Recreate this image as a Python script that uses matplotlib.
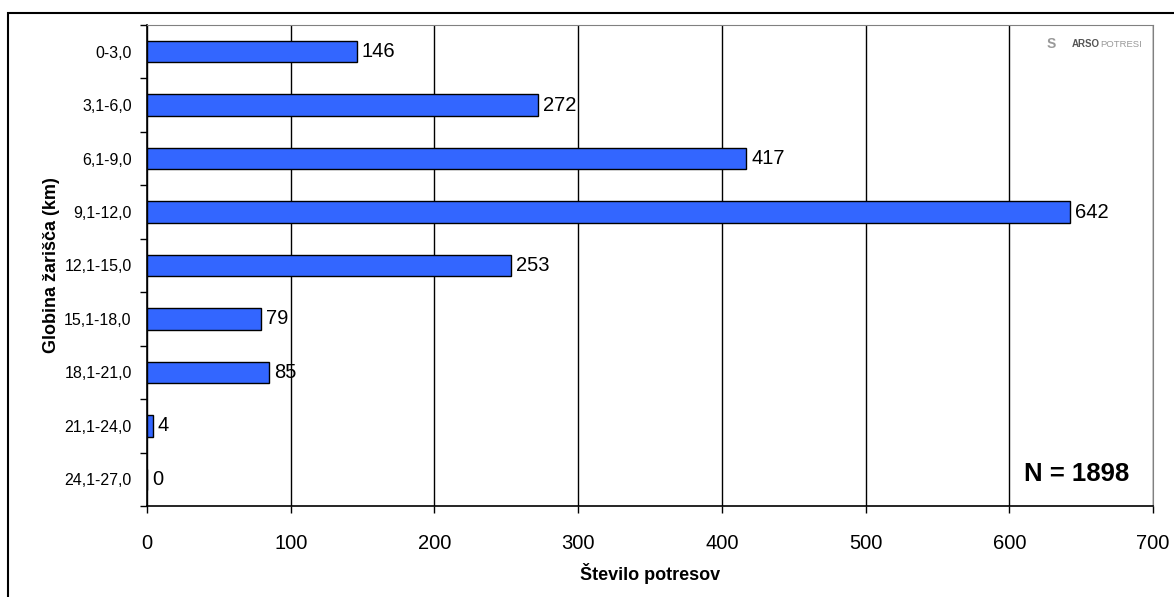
import numpy as np
import matplotlib.pyplot as plt
from matplotlib.patches import Rectangle

plt.rcParams['font.family'] = ['Liberation Sans', 'DejaVu Sans']

# Depth classes (km) and number of earthquakes
depths = ['0-3,0', '3,1-6,0', '6,1-9,0', '9,1-12,0', '12,1-15,0',
          '15,1-18,0', '18,1-21,0', '21,1-24,0', '24,1-27,0']
counts = [146, 272, 417, 642, 253, 79, 85, 4, 0]
x_ticks = [0, 100, 200, 300, 400, 500, 600, 700]

fig = plt.figure(figsize=(11.74, 5.97), dpi=100)
ax = fig.add_axes([147 / 1174, 1 - 506 / 597, (1153 - 147) / 1174, (506 - 25) / 597])

# outer frame of the chart
fig.patches.append(Rectangle((8 / 1174, -0.05), 1.0, 1 - 13 / 597 + 0.05,
                             transform=fig.transFigure, fill=False,
                             edgecolor='black', linewidth=1.5))

y = np.arange(len(depths))
ax.barh(y, counts, height=0.4, color='#3366ff', edgecolor='black', linewidth=1, zorder=3)

for yi, c in zip(y, counts):
    ax.text(c + 3.5, yi, str(c), va='center', ha='left', fontsize=14.5, zorder=4)

ax.set_xlim(0, 700)
ax.set_ylim(len(depths) - 0.5, -0.5)
ax.set_xticks(x_ticks)
ax.set_xticklabels([str(t) for t in x_ticks], fontsize=14.5)
ax.tick_params(axis='x', direction='out', length=5, width=1, pad=15)

# ticks on the class boundaries, labels in the middle
ax.set_yticks(np.arange(-0.5, len(depths), 1.0))
ax.set_yticklabels([])
ax.tick_params(axis='y', which='major', direction='out', length=5, width=1)
ax.set_yticks(y, minor=True)
ax.set_yticklabels(depths, minor=True, fontsize=11.5)
ax.tick_params(axis='y', which='minor', length=0, pad=11)

ax.grid(axis='x', color='black', linewidth=1, zorder=0)
ax.set_axisbelow(True)
for s in ['top', 'right']:
    ax.spines[s].set_color('#808080')
for s in ['left', 'bottom']:
    ax.spines[s].set_linewidth(1.2)

ax.set_xlabel('Število potresov', fontsize=13, fontweight='bold', labelpad=7)
ax.set_ylabel('Globina žarišča (km)', fontsize=13, fontweight='bold', labelpad=3)

ax.text(0.976, 0.067, 'N = 1898', transform=ax.transAxes, ha='right', va='center',
        fontsize=18.5, fontweight='bold')

# logo
ax.text(0.899, 0.960, 'S', transform=ax.transAxes, ha='center', va='center',
        fontsize=10, color='#999999', fontweight='bold')
ax.text(0.919, 0.960, 'ARSO', transform=ax.transAxes, ha='left', va='center',
        fontsize=7, color='#555555', fontweight='bold')
ax.text(0.948, 0.960, 'POTRESI', transform=ax.transAxes, ha='left', va='center',
        fontsize=6.8, color='#999999')

plt.savefig('out.png', dpi=100)
